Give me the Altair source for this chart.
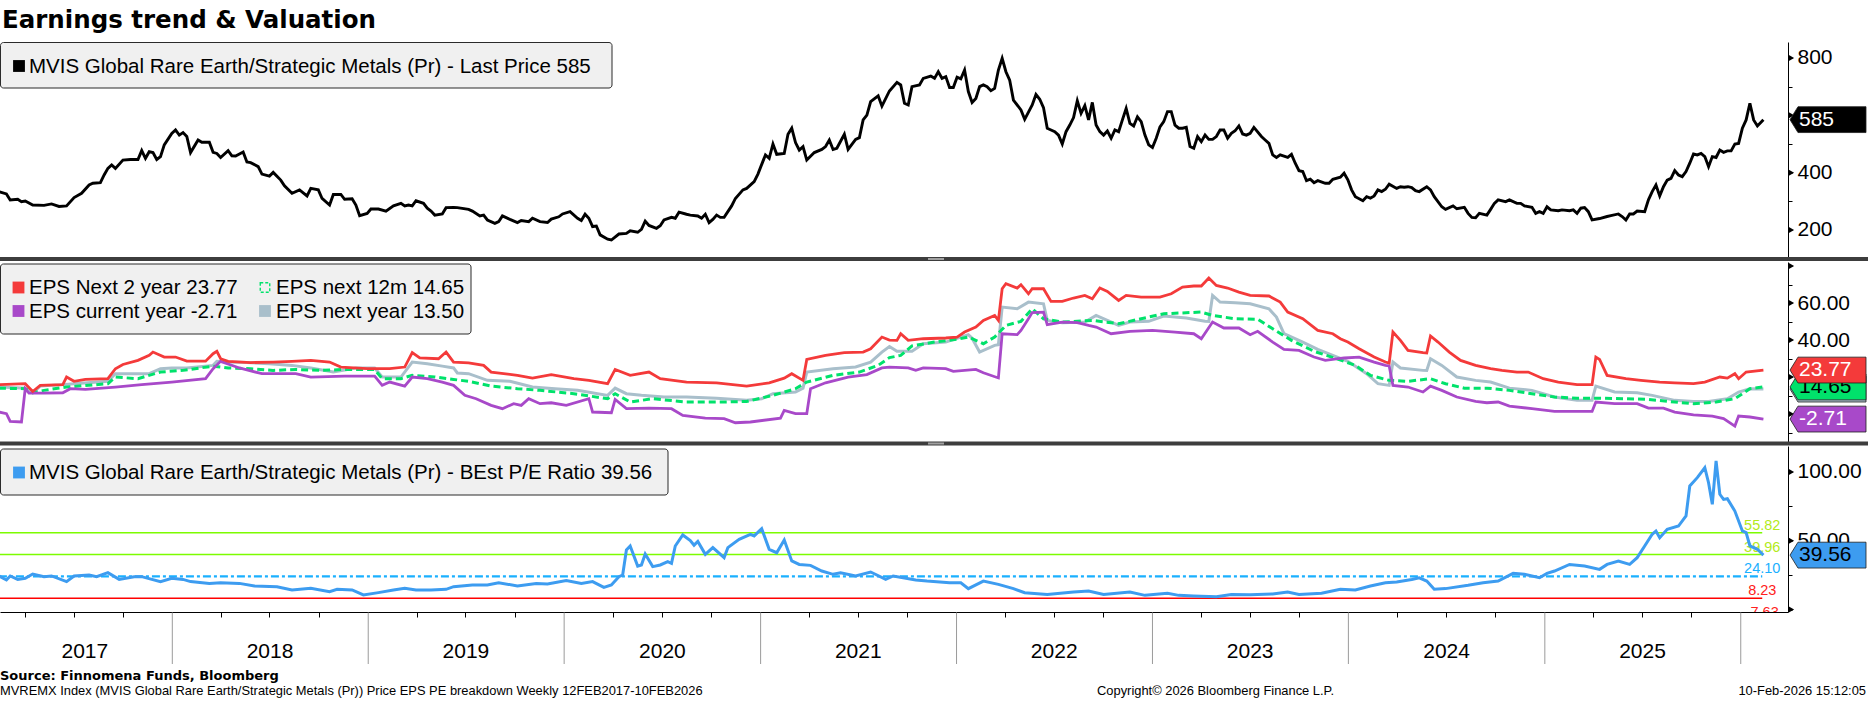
import altair as alt
import pandas as pd

# ---------------- data (weekly observations, week index since 12-Feb-2017) ----------------
START = pd.Timestamp("2017-02-12")
LAST = pd.Timestamp("2026-02-10")
LASTW = 469.6

price_weeks = [0,2,3,5,6,7,9,12,14,16,18,20,22,24,25,27,28,29,30,31,33,35,37,38,39,40,41,42,43,44,46,47,48,49,50,51,53,54,56,57,58,59,61,62,63,65,66,67,69,70,72,73,75,76,78,80,82,83,85,86,88,89,91,92,94,95,96,98,99,101,103,105,107,108,109,110,111,113,114,115,116,118,119,121,122,125,126,128,129,130,132,133,134,136,138,139,141,142,144,146,147,149,150,152,154,155,156,157,158,159,160,162,163,165,167,168,170,171,172,173,175,176,177,179,180,181,183,184,186,187,188,189,190,191,192,193,195,196,198,199,201,202,204,205,206,207,209,210,211,212,213,214,215,217,219,220,221,222,223,225,226,228,229,230,231,232,234,235,237,239,240,241,242,243,245,246,248,249,250,251,252,253,254,255,256,257,258,259,260,261,262,263,264,265,266,267,268,269,270,272,273,275,276,277,278,279,280,281,282,283,284,285,286,287,288,289,290,291,292,293,294,295,296,297,298,299,300,301,302,303,304,305,306,307,308,309,310,311,312,313,314,315,316,317,318,319,320,321,322,323,324,325,326,327,328,329,330,331,332,333,334,336,337,338,339,340,341,343,344,345,346,347,348,349,350,351,353,354,355,357,358,359,360,361,363,364,365,366,367,368,369,370,372,373,374,375,376,377,378,380,381,382,384,385,387,388,390,391,392,393,394,396,397,398,399,401,402,404,405,406,408,409,410,411,412,413,415,416,418,419,420,421,422,423,424,426,428,429,431,432,433,434,435,436,438,439,440,441,442,443,444,445,446,447,448,449,450,451,452,453,454,455,456,457,458,459,460,461,462,463,464,465,466,467,468,LASTW]
price_values = [334,326,305,307,299,301,287,286,291,282,284,313,328,357,363,365,392,415,427,415,444,446,446,477,450,473,470,446,456,497,537,549,531,540,526,470,514,506,506,471,467,453,477,459,458,472,437,435,421,395,388,401,374,354,328,340,319,345,340,310,287,324,324,307,309,287,250,258,273,273,266,284,293,284,287,284,302,293,276,266,252,256,278,279,278,272,266,249,252,235,223,229,249,237,226,233,229,241,229,226,238,246,256,264,241,233,255,241,212,214,183,168,165,186,188,197,192,202,231,216,206,215,235,244,241,262,255,252,249,241,255,226,237,252,244,244,284,310,340,345,369,395,462,450,500,464,467,534,555,505,479,491,444,470,481,491,514,481,485,534,481,516,522,584,601,648,668,632,685,715,706,642,636,700,706,729,737,729,752,729,735,697,697,733,727,758,683,645,659,700,706,700,686,694,758,799,752,723,653,619,586,636,673,656,627,555,549,543,531,500,543,566,592,651,607,634,584,645,566,543,531,545,520,549,543,584,624,572,563,595,578,531,497,488,520,560,578,613,613,566,555,555,558,491,485,526,508,531,516,516,526,549,549,520,537,546,563,535,531,537,558,526,514,502,462,453,462,453,464,433,407,404,372,377,365,372,363,363,377,384,398,375,340,316,302,316,311,319,340,334,342,360,345,351,349,351,348,337,334,351,340,316,281,272,284,274,279,258,244,243,258,252,272,293,305,299,305,293,293,284,279,258,264,258,281,270,267,270,267,270,258,276,278,264,235,240,247,250,256,247,235,256,256,266,264,305,334,357,319,351,374,380,407,392,386,404,433,465,462,467,456,421,456,453,479,471,476,476,500,502,555,584,642,584,563,585]

eps2y_weeks = [0,7,9,11,17,18,20,23,29,31,33,37,40,41,44,47,50,55,57,58,59,61,67,73,78,83,88,91,98,104,108,110,112,117,119,121,125,129,131,138,142,147,153,157,162,164,168,173,176,183,191,199,205,209,211,214,215,220,225,230,232,235,237,239,240,242,246,252,255,257,260,262,265,266,267,268,271,272,274,275,278,280,283,286,289,291,293,295,298,300,304,309,312,315,318,320,322,324,327,330,333,338,341,343,347,351,355,357,359,362,366,369,370,371,373,375,379,380,381,383,386,389,393,397,400,404,407,411,415,420,424,425,426,428,433,437,442,446,451,454,458,460,462,463,465,LASTW]
eps2y_values = [15.9,16.4,12.2,15.5,15.9,20.0,17.7,18.7,19.1,24.5,26.8,29.0,31.7,33.5,30.8,30.8,28.6,28.6,32.6,33.9,29.9,28.5,27.8,28.1,28.5,29.0,28.1,25.4,24.5,24.5,25.4,33.2,30.3,29.9,33.5,28.1,27.7,26.3,22.7,20.9,19.4,21.3,19.1,18.2,16.4,24.1,20.9,22.7,19.1,17.3,16.9,15.1,16.9,19.4,21.8,18.2,29.5,31.7,33.2,33.5,35.3,41.6,40.0,39.8,43.4,39.8,40.7,41.1,41.6,44.3,47.0,50.6,53.3,50.6,67.7,70.4,68.1,69.9,65.0,67.7,67.7,60.9,60.9,62.7,64.1,62.3,68.1,66.3,61.4,64.1,63.2,63.2,65.0,68.6,69.2,69.2,73.5,69.5,68.1,65.9,64.1,63.8,60.5,55.1,51.5,45.2,43.4,40.7,38.9,35.3,30.8,28.1,27.5,44.3,39.8,34.4,33.2,33.0,42.2,38.9,33.5,29.0,26.3,24.5,23.6,22.7,22.7,19.1,17.3,15.9,15.9,30.8,29.5,20.9,19.1,18.2,17.3,16.9,16.4,17.3,20.0,19.4,21.8,19.1,22.7,23.77]

epsny_weeks = [0,7,9,11,17,20,29,31,40,43,46,50,57,58,61,66,72,78,83,89,95,100,102,107,110,114,118,121,122,125,130,136,142,148,154,162,164,167,171,177,183,191,199,203,206,212,214,215,222,228,232,235,237,239,243,246,252,258,259,261,265,266,267,271,274,278,279,283,289,292,295,298,301,306,310,316,321,322,323,325,329,333,338,340,342,347,351,355,359,364,367,370,371,373,379,380,381,384,388,393,397,402,408,414,420,424,425,430,436,440,446,451,455,460,463,466,LASTW]
epsny_values = [14.6,14.0,11.5,15.1,15.9,16.4,17.7,21.8,21.8,24.5,24.9,24.9,26.3,28.5,28.1,27.8,27.2,26.3,24.9,22.7,24.9,24.9,20.0,20.0,28.1,27.2,25.9,24.9,22.2,21.8,18.2,17.7,14.6,13.7,12.8,10.1,14.0,11.0,10.1,9.2,9.2,8.6,7.4,8.3,11.0,11.9,14.0,22.7,24.5,25.4,28.1,33.5,36.5,33.9,33.9,38.0,38.9,42.9,41.0,33.5,37.1,37.5,57.8,56.9,60.5,59.6,50.6,49.4,49.7,53.3,50.6,47.9,49.7,50.1,53.0,51.9,50.1,50.0,64.1,60.5,60.2,59.6,56.9,52.4,43.4,38.9,34.9,31.7,28.5,21.8,16.4,15.5,28.1,24.9,23.6,23.5,29.9,26.3,20.0,18.2,17.3,14.0,12.8,9.2,7.4,7.4,15.1,11.9,11.5,10.1,7.4,6.8,6.8,8.3,11.9,13.7,13.50]

eps12m_weeks = [0,7,9,12,18,29,31,37,43,49,57,61,67,73,79,86,92,98,100,102,107,110,116,121,125,131,138,144,153,162,164,168,174,183,193,199,206,212,215,222,229,234,237,240,243,249,255,258,262,265,268,272,275,278,283,291,298,304,310,320,323,329,335,339,344,350,356,361,365,370,375,381,385,390,396,402,408,414,420,426,433,439,446,451,457,462,466,LASTW]
eps12m_values = [14.0,13.7,11.5,12.8,14.6,16.4,20.0,19.1,22.7,23.6,25.9,24.9,24.5,23.6,24.1,23.6,24.1,24.1,24.0,19.1,19.1,20.9,20.0,18.7,17.7,15.1,13.7,12.8,11.0,8.3,11.0,6.5,8.3,6.5,6.5,6.8,10.1,13.7,17.3,20.9,22.7,26.3,30.5,31.7,36.8,38.9,40.4,41.6,38.0,41.6,47.9,50.1,56.9,51.5,49.7,50.6,48.8,51.5,54.2,55.1,53.3,51.5,51.2,46.1,39.8,33.9,29.9,26.3,20.9,18.2,17.7,19.1,16.4,14.0,14.0,12.8,11.0,9.2,8.6,8.6,8.3,7.9,6.5,5.6,6.5,8.3,13.7,14.65]

epscy_weeks = [0,2,3,6,7,8,12,17,19,23,31,38,46,55,57,59,64,70,79,83,92,100,102,104,108,110,114,118,121,124,127,131,134,137,139,141,144,147,151,157,158,163,164,167,173,179,182,188,193,196,200,208,209,212,215,216,220,226,231,235,237,242,244,246,252,254,260,262,266,267,271,272,274,275,278,279,283,287,290,292,296,301,307,313,318,320,323,326,330,333,335,339,342,346,350,353,358,362,366,369,370,371,375,379,381,384,388,393,396,399,402,408,414,420,424,425,430,436,439,443,446,451,456,459,462,463,466,LASTW]
epscy_values = [1.1,0.2,-4.0,-4.3,13.7,11.3,11.3,11.5,13.7,13.3,14.6,15.9,17.3,19.1,24.5,28.5,24.9,21.8,21.8,20.0,20.5,20.5,15.5,17.3,15.1,20.0,19.1,17.3,15.5,10.1,8.3,4.7,2.9,5.6,4.7,8.3,5.6,6.1,4.7,8.3,1.1,0.7,7.9,2.9,3.2,2.9,-0.7,-2.2,-2.5,-4.7,-4.3,-2.2,2.0,0.2,0.2,13.7,16.9,20.0,21.3,24.9,25.4,24.9,23.6,24.9,24.5,23.1,24.1,22.3,19.5,43.4,42.9,45.2,51.5,54.8,55.1,48.3,49.7,49.4,47.9,47.0,43.4,44.7,45.2,44.3,43.4,40.7,49.7,46.5,46.5,42.9,44.7,38.9,34.9,34.4,30.8,29.0,30.3,30.8,28.1,26.3,26.0,15.5,14.6,11.9,15.1,12.8,9.2,6.8,6.1,6.5,4.3,2.9,1.4,1.4,1.4,6.5,5.6,5.6,3.2,3.2,1.1,-0.4,-1.1,-2.5,-6.5,-1.1,-1.6,-2.71]

pe_weeks = [0,2,3,5,7,9,12,14,18,20,24,26,29,32,36,38,43,46,49,51,56,59,64,68,74,78,83,88,90,94,97,101,105,108,111,115,119,121,126,130,133,138,143,146,151,155,158,161,163,165,166,167,168,170,171,172,174,176,178,179,180,182,184,185,186,188,190,193,194,197,200,201,203,205,207,209,211,213,216,219,222,224,228,232,236,238,244,247,253,256,258,262,266,270,273,279,286,290,294,301,305,311,314,318,324,328,333,339,343,346,352,357,361,365,369,372,376,378,380,382,385,391,395,399,403,406,410,412,414,418,422,426,428,431,434,436,438,440,441,442,444,447,449,450,452,454,455,456,457,458,459,460,462,464,465,466,468,LASTW]
pe_values = [24.4,21.5,24.4,21.9,22.7,25.8,23.9,24.4,20.3,24.4,25.1,23.9,26.8,21.9,23.9,23.9,20.3,22.7,21.9,20.3,19.0,19.5,19.0,17.1,16.6,14.2,15.4,13.0,14.7,14.2,10.6,12.3,14.2,15.4,14.2,14.2,14.7,16.6,17.8,17.8,19.5,17.1,19.0,18.6,21.0,19.0,20.3,16.1,17.8,23.9,25.1,43.3,46.2,31.6,32.4,40.4,31.2,32.4,34.8,33.6,46.2,54.2,50.2,46.8,49.5,40.1,45.0,37.7,45.0,51.0,54.7,53.5,58.8,43.8,41.3,50.5,35.3,32.8,32.1,28.0,25.6,26.8,24.4,27.3,21.9,24.4,21.5,20.7,19.5,19.5,15.2,20.7,18.3,15.2,12.2,11.0,12.7,13.5,11.0,12.7,10.3,11.8,10.3,9.8,9.3,11.0,10.8,11.3,12.7,11.0,11.8,14.7,14.2,17.1,19.5,20.0,21.9,23.1,20.7,14.7,15.2,17.6,19.5,20.7,26.3,25.6,23.1,26.3,28.0,32.8,31.6,29.2,32.8,35.3,32.8,37.7,46.2,54.7,57.1,52.2,58.3,60.7,68.0,89.8,95.9,103.1,92.2,76.5,108.0,83.8,80.1,80.6,71.6,57.1,55.9,46.2,43.8,39.56]

ref_values = [55.82, 39.96, 24.10, 8.23, -7.63]
ref_labels = ["55.82", "39.96", "24.10", "8.23", "-7.63"]
ref_line_colors = ["#7cfc00", "#7cfc00", "#1ab0ff", "#ff0000", "#ff0000"]
ref_label_colors = ["#b2ea1a", "#b2ea1a", "#1ab0ff", "#ff2020", "#ff2020"]
ref_dashed = [False, False, True, False, False]

year_bounds = ["2018-01-01", "2019-01-01", "2020-01-01", "2021-01-01", "2022-01-01",
               "2023-01-01", "2024-01-01", "2025-01-01", "2026-01-01"]
year_labels = ["2017", "2018", "2019", "2020", "2021", "2022", "2023", "2024", "2025"]
year_label_dates = ["2017-07-22", "2018-07-02", "2019-07-02", "2020-07-02", "2021-07-02",
                    "2022-07-02", "2023-07-02", "2024-07-02", "2025-07-02"]

p1_ticks = [200, 300, 400, 500, 600, 700, 800]
p1_major = [200, 400, 600, 800]
p1_shown = [200, 400, 800]
p2_ticks = [-10, 0, 10, 20, 30, 40, 50, 60, 70, 80]
p2_major = [0, 20, 40, 60, 80]
p2_shown = [40, 60]
p3_ticks = [0, 25, 50, 75, 100]
p3_major = [0, 50, 100]
p3_shown = [50, 100]

# ---------------- layout / style ----------------
W = 1788
H1, H2, H3 = 216, 180, 166
RIGHT = 1868
FONT = "Liberation Sans, Arial, sans-serif"
BFONT = "DejaVu Sans, Verdana, sans-serif"

C_RED = "#f43a3a"
C_GREEN = "#00e26b"
C_GREY = "#a9bfcb"
C_PURPLE = "#a849c9"
C_BLUE = "#3d9cf0"

xs = alt.Scale(domain=[alt.DateTime(year=2017, month=2, date=14),
                       alt.DateTime(year=2026, month=3, date=30)])
quarter_ticks = [alt.DateTime(year=y, month=m, date=1)
                 for y in range(2017, 2026) for m in (4, 7, 10)]
x_axis3 = alt.Axis(values=quarter_ticks, labels=False, ticks=True, tickSize=5,
                   tickColor="black", domain=True, domainColor="black", domainWidth=1,
                   grid=False, title=None)

ys1 = alt.Scale(domain=[102.3, 855.8], nice=False, zero=False)
ys2 = alt.Scale(domain=[-15.1, 82.16], nice=False, zero=False)
ys3 = alt.Scale(domain=[-1.8, 118.9], nice=False, zero=False)


def yaxis(values, shown, fmt=None):
    expr = " || ".join(f"datum.value == {v}" for v in shown)
    kw = dict(orient="right", values=values, tickSize=4, tickColor="black", tickWidth=1,
              domainColor="black", domainWidth=1, labelFont=FONT, labelFontSize=21,
              labelColor="black", labelPadding=5, labelExpr=f"({expr}) ? datum.label : ''",
              grid=False, title=None, labelOverlap=False)
    if fmt:
        kw["format"] = fmt
    return alt.Axis(**kw)


ya1 = yaxis(p1_ticks, p1_shown)
ya2 = yaxis(p2_ticks, p2_shown, ".2f")
ya3 = yaxis(p3_ticks, p3_shown, ".2f")

one = pd.DataFrame({"k": [0]})


def dates(weeks):
    return [START + pd.Timedelta(days=7 * w) for w in weeks]


def line(weeks, vals, color, ys, ya, xaxis=None, width=2.8, dash=None):
    df = pd.DataFrame({"date": dates(weeks), "value": vals})
    kw = dict(color=color, strokeWidth=width, clip=True)
    if dash:
        kw["strokeDash"] = dash
    return alt.Chart(df).mark_line(**kw).encode(
        x=alt.X("date:T", scale=xs, axis=xaxis),
        y=alt.Y("value:Q", scale=ys, axis=ya))


def triangles(vals, ys, ya):
    df = pd.DataFrame({"value": vals})
    return alt.Chart(df).mark_point(shape="triangle-right", filled=True, size=36,
                                    color="black", opacity=1).encode(
        x=alt.value(W + 3.5), y=alt.Y("value:Q", scale=ys, axis=ya))


TAG_R = 38
TAG_PATH = "M -1 0 L -0.79 -0.34 L 1 -0.34 L 1 0.34 L -0.79 0.34 Z"


def tag(value, label, fill, txt, ys, ya):
    df = pd.DataFrame({"value": [value], "label": [label]})
    base = alt.Chart(df).encode(y=alt.Y("value:Q", scale=ys, axis=ya))
    shp = base.mark_point(shape=TAG_PATH, size=(2 * TAG_R) ** 2, filled=True, fill=fill,
                          stroke="#1e1e1e", strokeWidth=0.8, opacity=1).encode(
        x=alt.value(W + 2 + TAG_R))
    t = base.mark_text(align="left", baseline="middle", font=FONT, fontSize=21,
                       color=txt).encode(x=alt.value(W + 11), text="label:N")
    return [shp, t]


def box(x2, y1, y2):
    return alt.Chart(one).mark_rect(fill="#f0f0f0", stroke="#2b2b2b", strokeWidth=1,
                                    cornerRadius=3).encode(
        x=alt.value(0.5), x2=alt.value(x2), y=alt.value(y1), y2=alt.value(y2))


def sym(x, y, color, outline=False):
    if outline:
        m = alt.Chart(one).mark_square(size=90, filled=False, stroke=color, strokeWidth=1.4,
                                       strokeDash=[3, 2], opacity=1)
    else:
        m = alt.Chart(one).mark_square(size=140, filled=True, color=color, opacity=1)
    return m.encode(x=alt.value(x), y=alt.value(y))


def label(x, y, text, size=20.5, font=FONT, weight="normal", align="left", color="black"):
    return alt.Chart(one).mark_text(text=text, align=align, baseline="alphabetic", font=font,
                                    fontSize=size, fontWeight=weight, color=color).encode(
        x=alt.value(x), y=alt.value(y))


def separator(y1, y2):
    bar = alt.Chart(one).mark_rect(color="#3d3d3d").encode(
        x=alt.value(0), x2=alt.value(RIGHT), y=alt.value(y1), y2=alt.value(y2))
    grip = alt.Chart(one).mark_rect(color="#a0a0a0").encode(
        x=alt.value(928), x2=alt.value(944), y=alt.value(y1 + 1), y2=alt.value(y2 - 1))
    return [bar, grip]


# ---------------- panel 1: price ----------------
p1_layers = [
    alt.Chart(one).mark_rect(color="white").encode(
        x=alt.value(0), x2=alt.value(1), y=alt.value(-42), y2=alt.value(-41)),
    label(2, -14, "Earnings trend & Valuation", size=24.5, font=BFONT, weight="bold"),
    line(price_weeks, price_values, "black", ys1, ya1, width=2.9),
    triangles(p1_major, ys1, ya1),
    *tag(585, "585", "black", "white", ys1, ya1),
    box(612, 0.5, 46),
    sym(19, 24, "black"),
    label(29, 31, "MVIS Global Rare Earth/Strategic Metals (Pr) - Last Price 585"),
    *separator(H1 - 1, H1 + 3),
]
p1 = alt.layer(*p1_layers).properties(width=W, height=H1)

# ---------------- panel 2: EPS ----------------
p2_layers = [
    line(epsny_weeks, epsny_values, C_GREY, ys2, ya2, width=3.0),
    line(eps12m_weeks, eps12m_values, C_GREEN, ys2, ya2, width=3.0, dash=[7, 4]),
    line(epscy_weeks, epscy_values, C_PURPLE, ys2, ya2, width=2.8),
    line(eps2y_weeks, eps2y_values, C_RED, ys2, ya2, width=2.8),
    triangles(p2_major, ys2, ya2),
    *tag(13.50, "13.50", C_GREY, "black", ys2, ya2),
    *tag(14.65, "14.65", C_GREEN, "black", ys2, ya2),
    *tag(23.77, "23.77", C_RED, "white", ys2, ya2),
    *tag(-2.71, "-2.71", C_PURPLE, "white", ys2, ya2),
    box(471, 2, 72),
    sym(18.5, 25.5, C_RED),
    label(29, 32, "EPS Next 2 year  23.77"),
    sym(18.5, 49, C_PURPLE),
    label(29, 56, "EPS current year -2.71"),
    sym(265, 25.5, C_GREEN, outline=True),
    label(276, 32, "EPS next 12m 14.65"),
    sym(265, 49, C_GREY),
    label(276, 56, "EPS next year 13.50"),
    *separator(H2 - 0.5, H2 + 3.5),
]
p2 = alt.layer(*p2_layers).properties(width=W, height=H2)

# ---------------- panel 3: P/E ----------------
ref_df = pd.DataFrame({"value": ref_values, "label": ref_labels, "lc": ref_line_colors,
                       "tc": ref_label_colors, "dashed": ref_dashed,
                       "start": [START] * 5, "end": [LAST] * 5})
ref_enc = dict(x=alt.X("start:T", scale=xs, axis=x_axis3), x2="end:T",
               y=alt.Y("value:Q", scale=ys3, axis=ya3),
               color=alt.Color("lc:N", scale=None))
ref_solid = alt.Chart(ref_df[~ref_df["dashed"]]).mark_rule(strokeWidth=1.6, clip=True).encode(**ref_enc)
ref_dash = alt.Chart(ref_df[ref_df["dashed"]]).mark_rule(strokeWidth=2.2, clip=True,
                                                         strokeDash=[8, 3, 3, 3]).encode(**ref_enc)
ref_text = alt.Chart(ref_df).mark_text(align="center", baseline="alphabetic", dy=-3, font=FONT,
                                       fontSize=14.5, clip=True).encode(
    x=alt.X("end:T", scale=xs, axis=x_axis3), y=alt.Y("value:Q", scale=ys3, axis=ya3),
    text="label:N", color=alt.Color("tc:N", scale=None))

yb_df = pd.DataFrame({"date": pd.to_datetime(year_bounds)})
year_rules = alt.Chart(yb_df).mark_rule(color="#9a9a9a", strokeWidth=1).encode(
    x=alt.X("date:T", scale=xs, axis=x_axis3), y=alt.value(H3 + 0.5), y2=alt.value(H3 + 52))
yl_df = pd.DataFrame({"date": pd.to_datetime(year_label_dates), "label": year_labels})
year_text = alt.Chart(yl_df).mark_text(font=FONT, fontSize=21, baseline="alphabetic",
                                       align="center", color="black").encode(
    x=alt.X("date:T", scale=xs, axis=x_axis3), y=alt.value(H3 + 46), text="label:N")

p3_layers = [
    ref_solid, ref_dash, ref_text,
    line(pe_weeks, pe_values, C_BLUE, ys3, ya3, xaxis=x_axis3, width=3.0),
    triangles(p3_major, ys3, ya3),
    *tag(39.56, "39.56", C_BLUE, "black", ys3, ya3),
    box(668, 3, 49),
    sym(19, 26.5, C_BLUE),
    label(29, 33, "MVIS Global Rare Earth/Strategic Metals (Pr) - BEst P/E Ratio 39.56"),
    year_rules, year_text,
    label(0, H3 + 68, "Source: Finnomena Funds, Bloomberg", size=13, font=BFONT, weight="bold"),
    label(0, H3 + 83, "MVREMX Index (MVIS Global Rare Earth/Strategic Metals (Pr)) Price EPS PE breakdown Weekly 12FEB2017-10FEB2026", size=12.9),
    label(1097, H3 + 83, "Copyright\u00a9 2026 Bloomberg Finance L.P.", size=12.9),
    label(1866, H3 + 83, "10-Feb-2026 15:12:05", size=12.9, align="right"),
]
p3 = alt.layer(*p3_layers).properties(width=W, height=H3)

chart = alt.vconcat(p1, p2, p3, spacing=4, bounds="flush").properties(
    padding=0, background="white").configure_view(stroke=None)

chart.save("out.html", embed_options={"renderer": "svg", "actions": False})
